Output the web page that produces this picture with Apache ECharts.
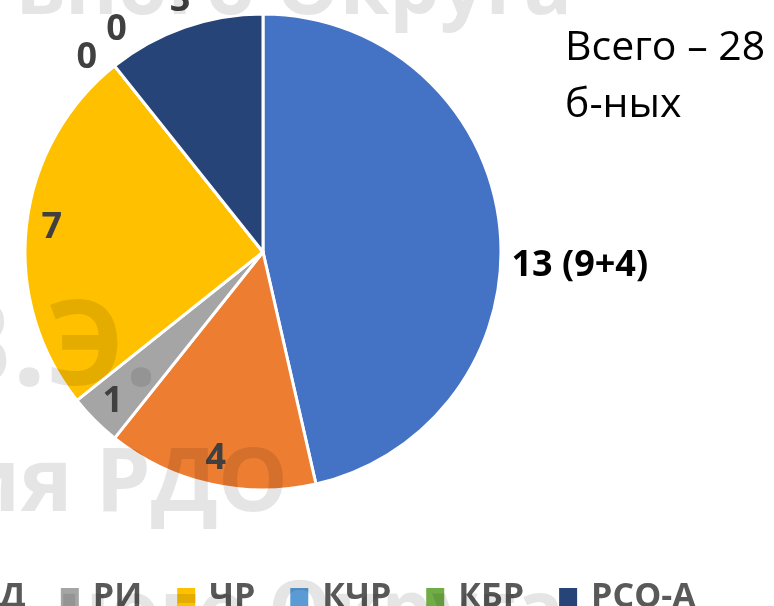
<!DOCTYPE html>
<html>
<head>
<meta charset="utf-8">
<script src="https://cdn.jsdelivr.net/npm/echarts@6/dist/echarts.min.js"></script>
<style>
  html, body { margin: 0; padding: 0; background: #ffffff; }
  #main { width: 774px; height: 606px; }
</style>
</head>
<body>
<div id="main"></div>
<script>
// регионы и число больных
const regions = ['СК', 'РД', 'РИ', 'ЧР', 'КЧР', 'КБР', 'РСО-А'];
const patients = [13, 4, 1, 7, 0, 0, 3];
const details = ['9+4', '', '', '', '', '', ''];
const colors = ['#4472C4', '#ED7D31', '#A5A5A5', '#FFC000', '#5B9BD5', '#70AD47', '#264478'];
const insideLabels = ['РД', 'РИ', 'ЧР']; // подписи внутри секторов
// небольшие сдвиги внешних подписей, как в оригинале
const labelNudge = {
  'СК': [-5, 42],
  'КЧР': [19, -27],
  'КБР': [28, -37],
  'РСО-А': [15, -18],
};

const cx = 263, cy = 252, R = 238;
const total = patients.reduce((a, b) => a + b, 0);
const font = "'Open Sans', 'Noto Sans', sans-serif";

const chart = echarts.init(document.getElementById('main'));

const pieData = regions.map((name, i) => {
  const inside = insideLabels.indexOf(name) >= 0;
  return {
    name: name,
    value: patients[i],
    itemStyle: { color: colors[i] },
    label: {
      position: inside ? 'inside' : 'outside',
      color: i === 0 ? '#000000' : '#404040',
    },
  };
});

// водяные знаки поверх диаграммы
const ghost = 'rgba(0,0,0,0.1)';
const watermarks = [
  { text: 'ьного Округа', x: 572, y: 31, size: 80, align: 'right' },
  { text: 'В.Э.', x: 158, y: 410, size: 118, align: 'right' },
  { text: 'ия РДО', x: 288, y: 530, size: 88, align: 'right' },
  { text: 'ного Округа', x: 57, y: 655, size: 80, align: 'left' },
];

const options = {
  animation: false,
  legend: {
    data: regions,
    orient: 'horizontal',
    left: -172,
    top: 575,
    icon: 'rect',
    itemWidth: 20,
    itemHeight: 20,
    itemGap: 33,
    textStyle: {
      fontFamily: font,
      fontSize: 34,
      fontWeight: 'bold',
      color: '#595959',
      lineHeight: 34,
      padding: [0, 0, 0, 8],
    },
  },
  graphic: [
    {
      type: 'text',
      left: 565,
      top: 20,
      style: {
        text: 'Всего – ' + total + '\nб-ных',
        font: '41px ' + font,
        fill: '#000000',
        lineHeight: 57,
      },
    },
  ].concat(watermarks.map((w) => ({
    type: 'text',
    x: w.x,
    y: w.y,
    z: 100,
    silent: true,
    style: {
      text: w.text,
      font: 'bold ' + w.size + 'px ' + font,
      fill: ghost,
      textAlign: w.align,
      textVerticalAlign: 'bottom',
    },
  }))),
  series: [
    {
      type: 'pie',
      center: [cx, cy],
      radius: [0, R],
      startAngle: 90,
      clockwise: true,
      avoidLabelOverlap: true,
      itemStyle: { borderColor: '#ffffff', borderWidth: 3 },
      label: {
        show: true,
        fontFamily: font,
        fontSize: 36,
        fontWeight: 'bold',
        formatter: (p) => details[p.dataIndex] ? p.value + ' (' + details[p.dataIndex] + ')' : '' + p.value,
      },
      labelLine: { show: false, length: 12, length2: 0 },
      labelLayout: function (p) {
        const name = regions[p.dataIndex];
        if (labelNudge[name]) {
          return { dx: labelNudge[name][0], dy: labelNudge[name][1] };
        }
        if (insideLabels.indexOf(name) < 0) return {};
        // сдвигаем внутренние подписи к краю сектора
        const r = p.labelRect;
        const lx = r.x + r.width / 2 - cx;
        const ly = r.y + r.height / 2 - cy;
        const d = Math.sqrt(lx * lx + ly * ly) || 1;
        const shift = R * 0.38;
        return { dx: lx / d * shift, dy: ly / d * shift };
      },
      data: pieData,
    },
  ],
};
chart.setOption(options);
window.onresize = function () {
  chart.resize();
};
</script>
</body>
</html>
